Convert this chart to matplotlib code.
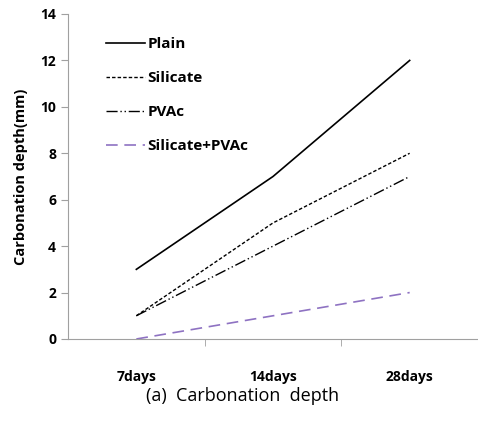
import matplotlib
matplotlib.use("Agg")
import matplotlib.pyplot as plt

# data
categories = ["7days", "14days", "28days"]
plain = [3, 7, 12]
silicate = [1, 5, 8]
pvac = [1, 4, 7]
silicate_pvac = [0, 1, 2]

plt.rcParams['font.family'] = ['Open Sans', 'DejaVu Sans']

fig = plt.figure(figsize=(4.78, 4.24), dpi=100)
ax = fig.add_axes([0.1423, 0.2005, 0.8577, 0.7665])

x = [i + 0.5 for i in range(len(categories))]
ax.plot(x, plain, color='black', lw=1.2, linestyle='-', label='Plain')
ax.plot(x, silicate, color='black', lw=1.0, linestyle=(0, (2.5, 1.5)), label='Silicate')
ax.plot(x, pvac, color='black', lw=1.0, linestyle=(0, (8, 2, 1, 2, 1, 2)), label='PVAc')
ax.plot(x, silicate_pvac, color='#8e72c2', lw=1.2, linestyle=(0, (7, 4)), label='Silicate+PVAc')

ax.set_xlim(0, 3)
ax.set_ylim(0, 14)
ax.set_yticks(range(0, 15, 2))
ax.set_xticks(x)
ax.set_xticklabels(categories, fontweight='bold', fontsize=10)
ax.set_xticks([1, 2, 3], minor=True)
ax.tick_params(axis='x', which='major', length=0, pad=22)
ax.tick_params(axis='x', which='minor', length=5, color='#a0a0a0', direction='out')
ax.tick_params(axis='y', length=5, color='#a0a0a0', direction='out', labelsize=10)
for lab in ax.get_yticklabels():
    lab.set_fontweight('bold')

for s in ['top', 'right']:
    ax.spines[s].set_visible(False)
for s in ['left', 'bottom']:
    ax.spines[s].set_color('#a0a0a0')

ax.set_ylabel('Carbonation depth(mm)', fontweight='bold', fontsize=10.5, labelpad=9)

leg = ax.legend(loc='upper left', bbox_to_anchor=(0.06, 0.97), frameon=False,
                handlelength=2.5, handletextpad=0.2, labelspacing=1.3,
                prop={'weight': 'bold', 'size': 11})

fig.text(0.508, 0.066, '(a)  Carbonation  depth', ha='center', va='center', fontsize=13)

fig.savefig('out.png', dpi=100)
